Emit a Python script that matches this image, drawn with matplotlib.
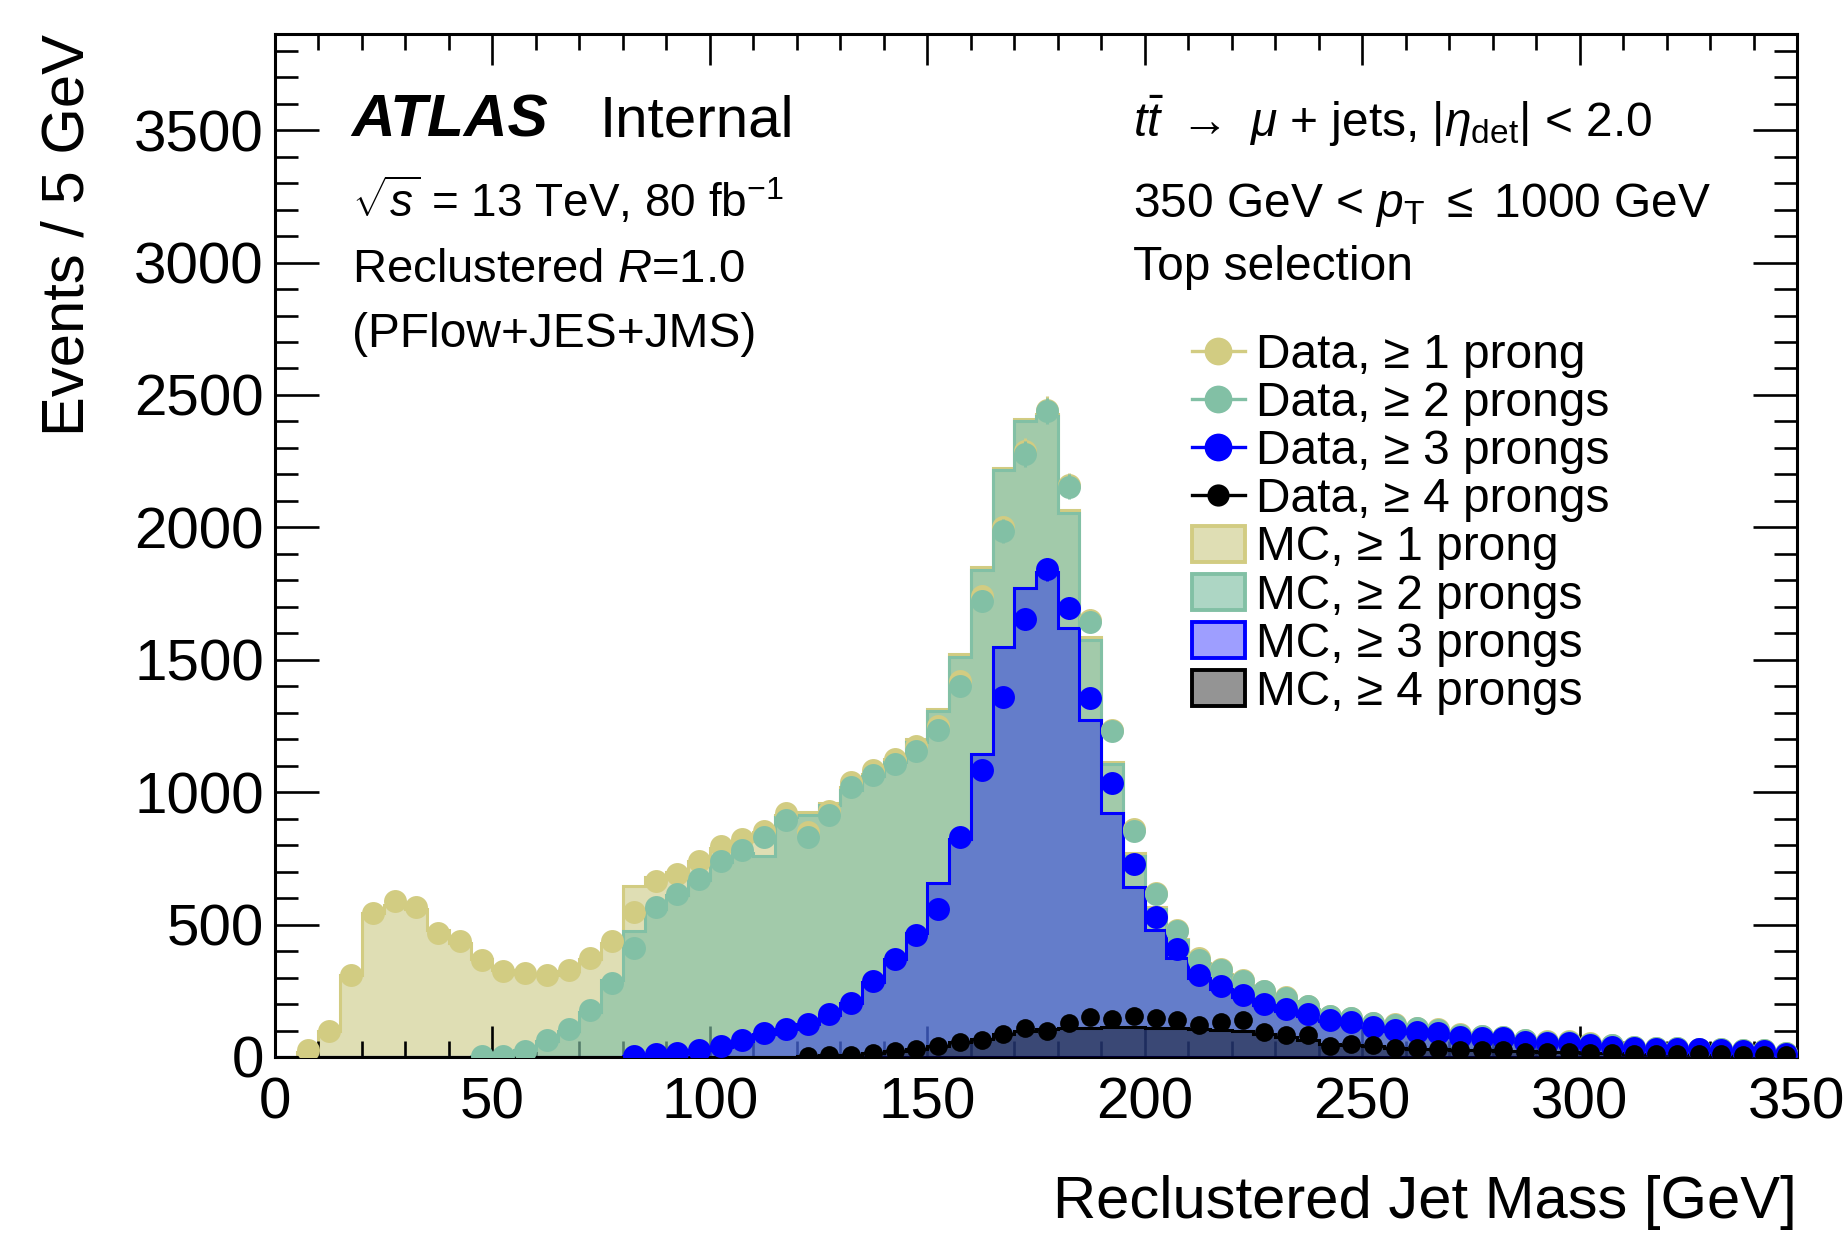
import matplotlib
matplotlib.use("Agg")
import matplotlib.pyplot as plt
import numpy as np
from matplotlib.lines import Line2D
from matplotlib.patches import Patch
from matplotlib.ticker import MultipleLocator

plt.rcParams['font.family'] = ['Liberation Sans', 'DejaVu Sans']
plt.rcParams['mathtext.fontset'] = 'custom'
plt.rcParams['mathtext.rm'] = 'Liberation Sans'
plt.rcParams['mathtext.it'] = 'Liberation Sans:italic'
plt.rcParams['mathtext.bf'] = 'Liberation Sans:bold'

nan = np.nan

# 5 GeV bins from 0 to 350 GeV
mass_edges = np.arange(0, 351, 5)
mass_centers = mass_edges[:-1] + 2.5

# Data, points per bin (nan = no point drawn)
data_1prong = [nan, 25, 100, 310, 545, 590, 567, 470, 437, 367,
               323, 316, 310, 327, 373, 437, 548, 666, 690, 741,
               797, 823, 855, 921, 850, 930, 1040, 1085, 1125, 1175,
               1250, 1420, 1740, 2000, 2290, 2445, 2160, 1650, 1235, 860,
               620, 480, 372, 333, 289, 250, 225, 193, 155, 148,
               129, 123, 110, 104, 85, 79, 77, 65, 59, 59,
               51, 45, 38, 35, 34, 32, 30, 27, 26, 15]
data_2prong = [nan] * 9 + [3,
               5, 22, 63, 104, 178, 280, 411, 565, 615, 674,
               740, 783, 829, 896, 830, 912, 1019, 1064, 1105, 1156,
               1233, 1402, 1723, 1986, 2277, 2438, 2154, 1644, 1230, 855,
               615, 476, 368, 330, 286, 248, 223, 191, 153, 147,
               128, 122, 109, 103, 84, 78, 76, 64, 58, 58,
               50, 44, 37, 34, 33, 31, 29, 26, 25, 14]
data_3prong = [nan] * 16 + [5, 12, 16, 25,
               40, 64, 89, 107, 125, 164, 205, 288, 370, 460,
               559, 830, 1082, 1361, 1655, 1841, 1697, 1356, 1036, 730,
               527, 406, 311, 267, 235, 201, 182, 163, 138, 134,
               115, 103, 96, 92, 77, 71, 71, 58, 52, 54,
               46, 39, 33, 30, 30, 29, 27, 24, 23, 12]
data_4prong = [nan] * 24 + [4, 6, 8, 14, 22, 30,
               40, 55, 64, 85, 108, 100, 128, 152, 145, 155,
               147, 140, 122, 134, 138, 96, 84, 84, 42, 48,
               45, 33, 33, 32, 27, 26, 26, 20, 20, 19,
               16, 14, 13, 12, 11, 10, 10, 9, 8, 7]

# MC histograms per bin
mc_1prong = [0, 20, 100, 310, 545, 575, 560, 480, 430, 370,
             330, 315, 310, 325, 370, 430, 645, 680, 700, 740,
             790, 815, 850, 915, 925, 960, 1020, 1070, 1125, 1200,
             1315, 1520, 1850, 2225, 2410, 2430, 2065, 1585, 1115, 770,
             565, 445, 355, 312, 272, 237, 212, 182, 152, 141,
             126, 116, 106, 99, 85, 78, 73, 63, 57, 55,
             49, 43, 37, 34, 32, 30, 28, 26, 24, 14]
mc_2prong = [0] * 9 + [2,
             8, 25, 60, 100, 170, 290, 475, 560, 610, 670,
             735, 770, 760, 905, 915, 950, 1010, 1060, 1115, 1190,
             1305, 1510, 1840, 2215, 2400, 2420, 2055, 1575, 1105, 760,
             560, 440, 350, 310, 270, 235, 210, 180, 150, 140,
             125, 115, 105, 98, 84, 77, 72, 62, 56, 54,
             48, 42, 36, 33, 31, 29, 27, 25, 23, 13]
mc_3prong = [0] * 16 + [3, 10, 15, 25,
             38, 60, 85, 105, 125, 160, 205, 285, 370, 468,
             658, 822, 1143, 1550, 1770, 1830, 1619, 1274, 921, 641,
             480, 375, 300, 255, 225, 195, 175, 155, 135, 125,
             112, 100, 92, 86, 76, 70, 66, 57, 52, 50,
             44, 38, 33, 30, 29, 27, 25, 23, 21, 12]
mc_4prong = [0] * 24 + [3, 6, 8, 14, 22, 30,
             42, 55, 68, 85, 98, 105, 108, 110, 112, 112,
             110, 108, 105, 102, 98, 85, 75, 65, 50, 45,
             40, 35, 32, 30, 27, 25, 23, 21, 19, 18,
             16, 14, 13, 12, 11, 10, 9, 8, 7, 5]

labels_n = ['1 prong', '2 prongs', '3 prongs', '4 prongs']

# colours
c_yellow = '#d2cc82'
c_green = '#82c0a5'
c_blue = '#0000ff'
c_black = '#000000'

fig = plt.figure(figsize=(18.45, 12.33), dpi=100)
ax = fig.add_axes([275 / 1845, 1 - 1057 / 1233, 1522 / 1845, 1022.7 / 1233])

# MC histograms (overlaid, not stacked)
ax.stairs(mc_1prong, mass_edges, fill=True, color='#dfdeb4', zorder=1)
ax.stairs(mc_1prong, mass_edges, color=c_yellow, lw=2.2, zorder=1.1)
ax.stairs(mc_2prong, mass_edges, fill=True, color=c_green, alpha=0.65, lw=0, zorder=2)
ax.stairs(mc_2prong, mass_edges, color=c_green, lw=2.2, zorder=2.1)
ax.stairs(mc_3prong, mass_edges, fill=True, color=c_blue, alpha=0.38, lw=0, zorder=3)
ax.stairs(mc_3prong, mass_edges, color=c_blue, lw=2.2, zorder=3.1)
ax.stairs(mc_4prong, mass_edges, fill=True, color=c_black, alpha=0.42, lw=0, zorder=4)
ax.stairs(mc_4prong, mass_edges, color=c_black, lw=2.2, zorder=4.1)

# data points
for vals, col, ms, z in [(data_1prong, c_yellow, 16.5, 5),
                         (data_2prong, c_green, 16.5, 6),
                         (data_3prong, c_blue, 16.5, 7),
                         (data_4prong, c_black, 13.5, 8)]:
    v = np.array(vals, dtype=float)
    ax.errorbar(mass_centers, v, yerr=np.sqrt(np.nan_to_num(v)), fmt='o',
                color=col, ms=ms, mew=0, elinewidth=2.2, capsize=0, zorder=z)

ax.set_xlim(0, 350)
ax.set_ylim(0, 3862)
ax.xaxis.set_major_locator(MultipleLocator(50))
ax.xaxis.set_minor_locator(MultipleLocator(10))
ax.yaxis.set_major_locator(MultipleLocator(500))
ax.yaxis.set_minor_locator(MultipleLocator(100))
ax.tick_params(which='both', direction='in', top=True, right=True, width=1.9,
               labelsize=42)
ax.tick_params(axis='x', which='major', length=22, pad=14)
ax.tick_params(axis='x', which='minor', length=11.5)
ax.tick_params(axis='y', which='major', length=32, pad=8)
ax.tick_params(axis='y', which='minor', length=16.5)
for s in ax.spines.values():
    s.set_linewidth(2.2)

ax.set_xlabel('Reclustered Jet Mass [GeV]', fontsize=43, loc='right', labelpad=32)
ax.set_ylabel('Events / 5 GeV', fontsize=43, loc='top', labelpad=28)

# labels
ax.text(0.0504, 0.900, 'ATLAS', transform=ax.transAxes, fontsize=43.5,
        fontweight='bold', fontstyle='italic', va='baseline')
ax.text(0.2135, 0.900, 'Internal', transform=ax.transAxes, fontsize=42, va='baseline')
ax.text(0.0504, 0.8218, r'$\sqrt{s}$ = 13 TeV, 80 fb$^{-1}$', transform=ax.transAxes,
        fontsize=33, va='baseline')
ax.text(0.0504, 0.7581, r'Reclustered $R$=1.0', transform=ax.transAxes,
        fontsize=34, va='baseline')
ax.text(0.0504, 0.6945, '(PFlow+JES+JMS)', transform=ax.transAxes,
        fontsize=34.5, va='baseline')
ax.text(0.5637, 0.900, r'$t\bar{t}$ $\rightarrow$ $\mu$ + jets, |$\eta_{\rm det}$| < 2.0',
        transform=ax.transAxes, fontsize=34.5, va='baseline')
ax.text(0.5637, 0.8218, r'350 GeV < $p_{\rm T}$ $\leq$ 1000 GeV',
        transform=ax.transAxes, fontsize=34.5, va='baseline')
ax.text(0.5637, 0.7597, 'Top selection', transform=ax.transAxes, fontsize=34.5,
        va='baseline')

# legend
handles = []
names = []
for col, ms, n in zip([c_yellow, c_green, c_blue, c_black], [20, 20, 20, 16], labels_n):
    handles.append(Line2D([], [], color=col, marker='o', ms=ms, mew=0, lw=2.4))
    names.append('Data, \u2265 ' + n)
for fc, ec, n in zip(['#dfdeb4', (130/255, 192/255, 165/255, 0.65),
                      (0, 0, 1, 0.38), (0, 0, 0, 0.42)],
                     [c_yellow, c_green, c_blue, c_black], labels_n):
    handles.append(Patch(facecolor=fc, edgecolor=ec, lw=2.8))
    names.append('MC, \u2265 ' + n)
ax.legend(handles, names, loc='upper left', bbox_to_anchor=(0.6025, 0.708),
          frameon=False, fontsize=34.5, borderpad=0, borderaxespad=0,
          handlelength=1.1, handleheight=0.77, handletextpad=0.23,
          labelspacing=0.065)

fig.savefig('out.png', dpi=100)
